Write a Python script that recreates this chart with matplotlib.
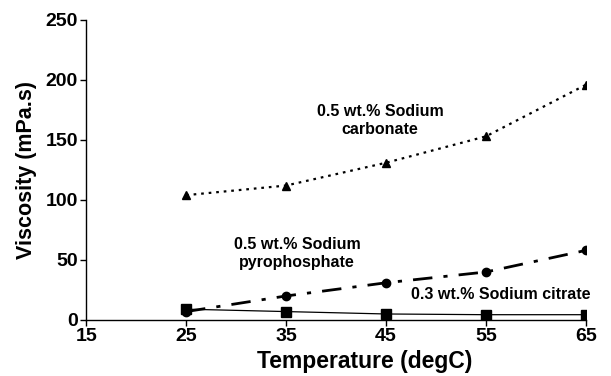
import matplotlib.pyplot as plt

plt.rcParams['font.family'] = ['Liberation Sans', 'DejaVu Sans']
plt.rcParams['font.weight'] = 'bold'

temperature = [25, 35, 45, 55, 65]
carbonate = [104, 112, 131, 153, 196]
pyrophosphate = [7, 20, 31, 40, 58]
citrate = [9, 7, 5, 4.4, 4.4]

fig = plt.figure(figsize=(6.11, 3.76), dpi=100)
ax = fig.add_axes([0.141, 0.149, 0.818, 0.798])

ax.plot(temperature, carbonate, color='black', linestyle=(0, (1.2, 2.2)),
        linewidth=1.6, marker='^', markersize=6)
ax.plot(temperature, pyrophosphate, color='black', linestyle=(0, (7, 4, 1.5, 4)),
        linewidth=2, marker='o', markersize=6)
ax.plot(temperature, citrate, color='black', linestyle='-',
        linewidth=0.9, marker='s', markersize=6.5)

ax.text(44.4, 166, '0.5 wt.% Sodium\ncarbonate', ha='center', va='center',
        fontsize=11.5, fontweight='bold', linespacing=1.25)
ax.text(36.1, 55, '0.5 wt.% Sodium\npyrophosphate', ha='center', va='center',
        fontsize=11.5, fontweight='bold', linespacing=1.25)
ax.text(65.5, 21, '0.3 wt.% Sodium citrate', ha='right', va='center',
        fontsize=11.5, fontweight='bold')

ax.set_xlim(15, 65)
ax.set_ylim(0, 250)
ax.set_xticks([15, 25, 35, 45, 55, 65])
ax.set_yticks([0, 50, 100, 150, 200, 250])
ax.set_xlabel('Temperature (degC)', fontsize=16.5, fontweight='bold')
ax.xaxis.set_label_coords(0.558, -0.1)
ax.set_ylabel('Viscosity (mPa.s)', fontsize=15.5, fontweight='bold', labelpad=6)
ax.tick_params(labelsize=14, direction='out', length=4, width=1, pad=2)
for lab in ax.get_xticklabels() + ax.get_yticklabels():
    lab.set_fontweight('bold')

ax.spines['top'].set_visible(False)
ax.spines['right'].set_visible(False)
ax.spines['left'].set_linewidth(1)
ax.spines['bottom'].set_linewidth(1)

fig.savefig('out.png', dpi=100)
